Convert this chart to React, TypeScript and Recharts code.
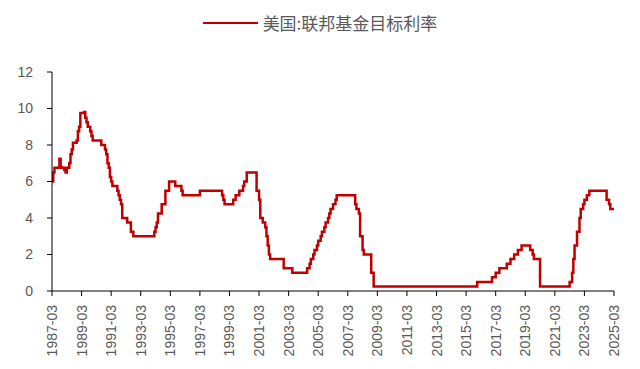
import { Line, LineChart, XAxis, YAxis } from "recharts";

// change points of the target rate (month, rate %)
const changeMonths = [
  "1987-03", "1987-04", "1987-05", "1987-09", "1987-10", "1987-11", "1988-01", "1988-02",
  "1988-03", "1988-05", "1988-06", "1988-07", "1988-08", "1988-11", "1988-12", "1989-01",
  "1989-02", "1989-05", "1989-06", "1989-07", "1989-08", "1989-10", "1989-11", "1989-12",
  "1990-07", "1990-10", "1990-11", "1990-12", "1991-01", "1991-02", "1991-03", "1991-04",
  "1991-08", "1991-09", "1991-10", "1991-11", "1991-12", "1992-04", "1992-07", "1992-09",
  "1994-02", "1994-03", "1994-04", "1994-05", "1994-08", "1994-11", "1995-02", "1995-07",
  "1995-12", "1996-01", "1997-03", "1998-09", "1998-10", "1998-11", "1999-06", "1999-08",
  "1999-11", "2000-02", "2000-03", "2000-05", "2001-01", "2001-02", "2001-03", "2001-04",
  "2001-05", "2001-06", "2001-08", "2001-09", "2001-10", "2001-11", "2001-12", "2002-11",
  "2003-06", "2004-06", "2004-08", "2004-09", "2004-11", "2004-12", "2005-02", "2005-03",
  "2005-05", "2005-06", "2005-08", "2005-09", "2005-11", "2005-12", "2006-01", "2006-03",
  "2006-05", "2006-06", "2007-09", "2007-10", "2007-12", "2008-01", "2008-03", "2008-04",
  "2008-10", "2008-12", "2015-12", "2016-12", "2017-03", "2017-06", "2017-12", "2018-03",
  "2018-06", "2018-09", "2018-12", "2019-07", "2019-09", "2019-10", "2020-03", "2022-03",
  "2022-05", "2022-06", "2022-07", "2022-09", "2022-11", "2022-12", "2023-02", "2023-03",
  "2023-05", "2023-07", "2024-09", "2024-11", "2024-12", "2025-03",
];
const changeRates = [
  6.0, 6.5, 6.75, 7.25, 6.8, 6.75, 6.625, 6.5,
  6.75, 7.0, 7.5, 7.75, 8.125, 8.25, 8.75, 9.0,
  9.75, 9.8125, 9.5, 9.25, 9.0, 8.75, 8.5, 8.25,
  8.0, 7.75, 7.5, 7.0, 6.75, 6.25, 6.0, 5.75,
  5.5, 5.25, 5.0, 4.75, 4.0, 3.75, 3.25, 3.0,
  3.25, 3.5, 3.75, 4.25, 4.75, 5.5, 6.0, 5.75,
  5.5, 5.25, 5.5, 5.25, 5.0, 4.75, 5.0, 5.25,
  5.5, 5.75, 6.0, 6.5, 5.5, 5.5, 5.0, 4.0,
  4.0, 3.75, 3.5, 3.0, 2.5, 2.0, 1.75, 1.25,
  1.0, 1.25, 1.5, 1.75, 2.0, 2.25, 2.5, 2.75,
  3.0, 3.25, 3.5, 3.75, 4.0, 4.25, 4.5, 4.75,
  5.0, 5.25, 4.75, 4.5, 4.25, 3.0, 2.25, 2.0,
  1.0, 0.25, 0.5, 0.75, 1.0, 1.25, 1.5, 1.75,
  2.0, 2.25, 2.5, 2.25, 2.0, 1.75, 0.25, 0.5,
  1.0, 1.75, 2.5, 3.25, 4.0, 4.5, 4.75, 5.0,
  5.25, 5.5, 5.0, 4.75, 4.5, 4.5,
];

const tickLabels = [
  "1987-03", "1989-03", "1991-03", "1993-03", "1995-03", "1997-03", "1999-03", "2001-03",
  "2003-03", "2005-03", "2007-03", "2009-03", "2011-03", "2013-03", "2015-03", "2017-03",
  "2019-03", "2021-03", "2023-03", "2025-03",
];
const yTicks = [0, 2, 4, 6, 8, 10, 12];

const monthIndex = (s: string) => {
  const [y, m] = s.split("-").map(Number);
  return (y - 1987) * 12 + (m - 3);
};

const data = changeMonths.map((m, i) => ({ t: monthIndex(m), rate: changeRates[i] }));
const xTicks = tickLabels.map(monthIndex);

const RED = "#C00000";
const GREY = "#595959";
const FONT = "'Liberation Sans', Arial, sans-serif";

function XTick({ x, y, payload }: any) {
  const label = tickLabels[xTicks.indexOf(payload.value)] ?? "";
  return (
    <text
      x={x}
      y={y + 7}
      transform={`rotate(-90, ${x}, ${y + 7})`}
      textAnchor="end"
      dominantBaseline="central"
      fill={GREY}
      fontSize={14}
      fontFamily={FONT}
    >
      {label}
    </text>
  );
}

export default function App() {
  return (
    <div style={{ position: "absolute", left: 0, top: 0, width: 640, height: 369, background: "#fff" }}>
      <div
        style={{
          position: "absolute",
          top: 11,
          left: 0,
          width: 640,
          display: "flex",
          justifyContent: "center",
          alignItems: "center",
        }}
      >
        <div style={{ width: 55, height: 2, background: RED, marginRight: 5 }} />
        <span style={{ color: GREY, fontSize: 17, fontFamily: "'Noto Sans CJK SC', sans-serif", lineHeight: "24px" }}>
          美国:联邦基金目标利率
        </span>
      </div>
      <LineChart
        width={640}
        height={369}
        data={data}
        margin={{ top: 72, right: 26, left: 0, bottom: 8 }}
      >
        <XAxis
          dataKey="t"
          type="number"
          domain={[0, 456]}
          ticks={xTicks}
          tick={<XTick />}
          tickSize={5}
          height={70}
          stroke="#000"
          interval={0}
        />
        <YAxis
          domain={[0, 12]}
          ticks={yTicks}
          width={52}
          tickSize={5}
          tickMargin={14}
          stroke="#000"
          tick={{ fill: GREY, fontSize: 14, fontFamily: FONT }}
        />
        <Line
          type="stepAfter"
          dataKey="rate"
          stroke={RED}
          strokeWidth={2.5}
          dot={false}
          isAnimationActive={false}
        />
      </LineChart>
    </div>
  );
}
